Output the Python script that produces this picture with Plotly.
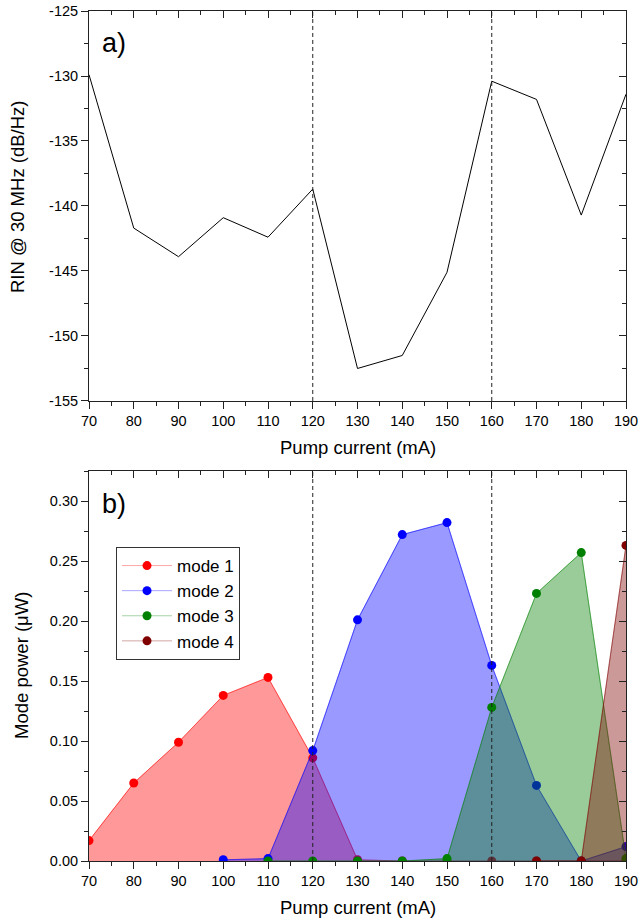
import plotly.graph_objects as go

# ---------------- data ----------------
current = [70, 80, 90, 100, 110, 120, 130, 140, 150, 160, 170, 180, 190]
rin = [-129.9, -141.7, -143.9, -140.9, -142.4, -138.7, -152.5, -151.5,
       -145.1, -130.4, -131.8, -140.7, -131.4]

mode1_x = [70, 80, 90, 100, 110, 120, 130, 140, 150, 160, 170, 180, 190]
mode1_y = [0.017, 0.065, 0.099, 0.138, 0.153, 0.086, 0.001, 0.0, 0.0, 0.0, 0.0, 0.0, 0.0]
mode2_x = [100, 110, 120, 130, 140, 150, 160, 170, 180, 190]
mode2_y = [0.001, 0.002, 0.092, 0.201, 0.272, 0.282, 0.163, 0.063, 0.0, 0.012]
mode3_x = [110, 120, 130, 140, 150, 160, 170, 180, 190]
mode3_y = [0.0, 0.0, 0.0, 0.0, 0.002, 0.128, 0.223, 0.257, 0.002]
mode4_x = [170, 180, 190]
mode4_y = [0.0, 0.0, 0.263]

mode_names = ["mode 1", "mode 2", "mode 3", "mode 4"]
mode_rgb = [(255, 0, 0), (0, 0, 255), (0, 128, 0), (128, 0, 0)]
modes_x = [mode1_x, mode2_x, mode3_x, mode4_x]
modes_y = [mode1_y, mode2_y, mode3_y, mode4_y]

x_ticks = list(range(70, 191, 10))
rin_ticks = list(range(-155, -124, 5))
rin_tick_text = [str(v) for v in rin_ticks]
pow_ticks = [0.0, 0.05, 0.10, 0.15, 0.20, 0.25, 0.30]
markers_x = [120, 160]

FONT = "Liberation Sans, Arial, sans-serif"
AX = "#222222"

fig = go.Figure()

# top panel
fig.add_trace(go.Scatter(x=current, y=rin, mode="lines",
                         line=dict(color="black", width=1),
                         showlegend=False, xaxis="x", yaxis="y"))

# bottom panel
for name, rgb, xs, ys in zip(mode_names, mode_rgb, modes_x, modes_y):
    r, g, b = rgb
    fig.add_trace(go.Scatter(x=xs, y=ys, mode="lines", fill="tozeroy",
                             fillcolor=f"rgba({r},{g},{b},0.4)",
                             line=dict(color=f"rgba({r},{g},{b},0.45)", width=1),
                             showlegend=False, hoverinfo="skip",
                             xaxis="x2", yaxis="y2"))
    fig.add_trace(go.Scatter(x=xs, y=ys, mode="lines+markers", name=name,
                             line=dict(color=f"rgba({r},{g},{b},0.35)", width=1),
                             marker=dict(color=f"rgb({r},{g},{b})", size=9),
                             xaxis="x2", yaxis="y2"))

tickfont = dict(family=FONT, size=14.5, color="black")
titlefont = dict(family=FONT, size=18.5, color="black")


def base_axis(**kw):
    d = dict(ticklen=7, tickwidth=1, tickcolor=AX, showline=True, linecolor=AX,
             linewidth=1, showgrid=False, zeroline=False, automargin=False,
             ticklabeloverflow="allow")
    d.update(kw)
    return d


top_dom = [0.5412, 1.0]
bot_dom = [0.0, 0.4588]

layout = dict(
    width=641, height=923,
    margin=dict(l=89, r=15, t=11, b=62, autoexpand=False),
    paper_bgcolor="white", plot_bgcolor="white",
    font=dict(family=FONT, color="black"),
    xaxis=base_axis(range=[70, 190], tickvals=x_ticks, ticks="outside",
                    minor=dict(ticks="outside", dtick=5, ticklen=4, tickcolor=AX),
                    tickfont=tickfont, anchor="y"),
    yaxis=base_axis(domain=top_dom, range=[-155, -125], tickvals=rin_ticks,
                    ticktext=rin_tick_text, ticks="outside",
                    minor=dict(ticks="outside", dtick=2.5, ticklen=4, tickcolor=AX),
                    tickfont=tickfont, anchor="x"),
    xaxis2=base_axis(range=[70, 190], tickvals=x_ticks, ticks="outside",
                     minor=dict(ticks="outside", dtick=5, ticklen=4, tickcolor=AX),
                     tickfont=tickfont, anchor="y2"),
    yaxis2=base_axis(domain=bot_dom, range=[0, 0.325], tickvals=pow_ticks,
                     tickformat=".2f", ticks="outside",
                     minor=dict(ticks="outside", dtick=0.025, ticklen=4, tickcolor=AX),
                     tickfont=tickfont, anchor="x2"),
    # mirrored axes with inward ticks
    xaxis3=base_axis(overlaying="x", side="top", anchor="y", range=[70, 190],
                     tickvals=x_ticks, ticks="inside",
                     minor=dict(ticks="inside", dtick=5, ticklen=4, tickcolor=AX),
                     showticklabels=False),
    yaxis3=base_axis(overlaying="y", side="right", anchor="x", range=[-155, -125],
                     tickvals=rin_ticks, ticks="inside",
                     minor=dict(ticks="inside", dtick=2.5, ticklen=4, tickcolor=AX),
                     showticklabels=False),
    xaxis4=base_axis(overlaying="x2", side="top", anchor="y2", range=[70, 190],
                     tickvals=x_ticks, ticks="inside",
                     minor=dict(ticks="inside", dtick=5, ticklen=4, tickcolor=AX),
                     showticklabels=False),
    yaxis4=base_axis(overlaying="y2", side="right", anchor="x2", range=[0, 0.325],
                     tickvals=pow_ticks, ticks="inside",
                     minor=dict(ticks="inside", dtick=0.025, ticklen=4, tickcolor=AX),
                     showticklabels=False),
    legend=dict(x=0.0503, y=0.3694, xanchor="left", yanchor="top",
                xref="paper", yref="paper",
                bgcolor="white", bordercolor="#333333", borderwidth=1,
                font=dict(family=FONT, size=17, color="black"),
                entrywidth=86, itemwidth=50),
    showlegend=True,
)
fig.update_layout(**layout)

# invisible traces to anchor overlay axes
fig.add_trace(go.Scatter(x=[None], y=[None], xaxis="x3", yaxis="y3", showlegend=False))
fig.add_trace(go.Scatter(x=[None], y=[None], xaxis="x4", yaxis="y4", showlegend=False))

# dashed vertical lines
for xv in markers_x:
    fig.add_shape(type="line", x0=xv, x1=xv, y0=0, y1=1, xref="x", yref="y domain",
                  line=dict(color="#222222", width=1, dash="4px,3px"))
    fig.add_shape(type="line", x0=xv, x1=xv, y0=0, y1=1, xref="x2", yref="y2 domain",
                  line=dict(color="#222222", width=1, dash="4px,3px"))

# axis titles
fig.add_annotation(text="Pump current (mA)", x=0.5, y=-47 / 390, xref="x domain",
                   yref="y domain", xanchor="center", yanchor="middle",
                   showarrow=False, font=titlefont)
fig.add_annotation(text="Pump current (mA)", x=0.5, y=-47 / 390, xref="x2 domain",
                   yref="y2 domain", xanchor="center", yanchor="middle",
                   showarrow=False, font=titlefont)
fig.add_annotation(text="RIN @ 30 MHz (dB/Hz)", x=-72 / 537, y=0.523, xref="x domain",
                   yref="y domain", xanchor="center", yanchor="middle",
                   textangle=-90, showarrow=False, font=titlefont)
fig.add_annotation(text="Mode power (μW)", x=-68 / 537, y=0.5, xref="x2 domain",
                   yref="y2 domain", xanchor="center", yanchor="middle",
                   textangle=-90, showarrow=False, font=titlefont)

# panel labels
fig.add_annotation(text="a)", x=0.021, y=0.962, xref="x domain", yref="y domain",
                   xanchor="left", yanchor="top", showarrow=False,
                   font=dict(family=FONT, size=27, color="black"))
fig.add_annotation(text="b)", x=0.021, y=0.96, xref="x2 domain", yref="y2 domain",
                   xanchor="left", yanchor="top", showarrow=False,
                   font=dict(family=FONT, size=27, color="black"))

fig.write_html("out.html", config=dict(displayModeBar=False),
               post_script="document.body.style.margin='0';"
                           "document.body.style.overflow='hidden';")
